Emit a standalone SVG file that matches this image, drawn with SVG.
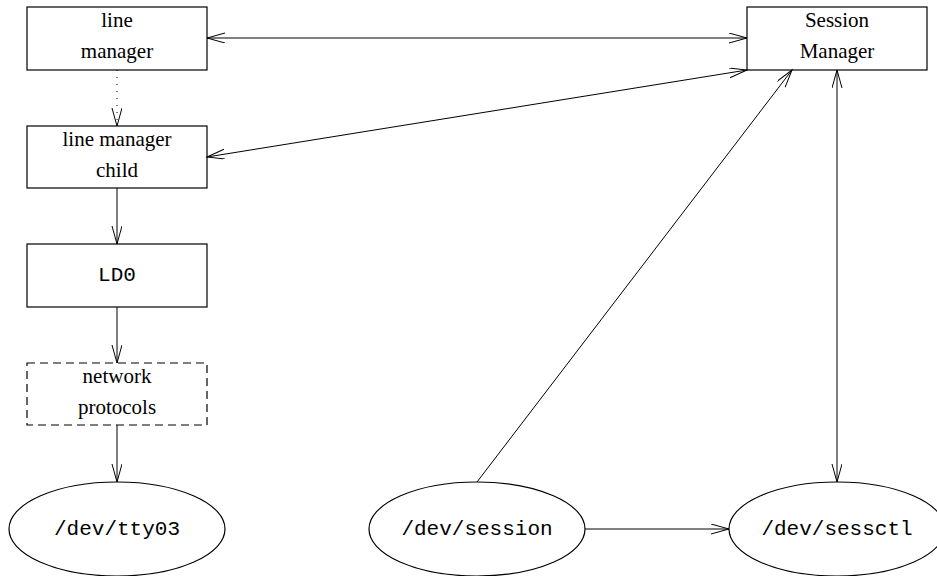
<svg xmlns="http://www.w3.org/2000/svg" width="937" height="576" viewBox="0 0 937 576">
<style>
.box{fill:none;stroke:#000;stroke-width:1.2}
.dash{stroke-dasharray:8,5}
.edge{fill:none;stroke:#000;stroke-width:1}
.dot{stroke-dasharray:1,6}
.t{font-family:"Liberation Serif","Times New Roman",serif;font-size:21px;text-anchor:middle;fill:#000}
.m{font-family:"Liberation Mono","Courier New",monospace;font-size:21px;text-anchor:middle;fill:#000}
</style>
<defs>
<marker id="arr" markerUnits="userSpaceOnUse" markerWidth="20" markerHeight="12" refX="18" refY="5" orient="auto-start-reverse" viewBox="0 0 20 12">
<path d="M0,0 L18,5 L0,10" fill="none" stroke="#000" stroke-width="1"/>
</marker>
</defs>
<rect width="937" height="576" fill="#fff"/>
<g id="line-manager">
<rect class="box" x="27" y="7" width="180" height="63"/>
<text class="t" x="117" y="27">line</text>
<text class="t" x="117" y="58">manager</text>
</g>
<g id="line-manager-child">
<rect class="box" x="27" y="126" width="180" height="62"/>
<text class="t" x="117" y="146">line manager</text>
<text class="t" x="117" y="177">child</text>
</g>
<g id="ld0">
<rect class="box" x="27" y="244" width="180" height="63"/>
<text class="m" x="117" y="281">LD0</text>
</g>
<g id="network-protocols">
<rect class="box dash" x="27" y="363" width="180" height="62"/>
<text class="t" x="117" y="383">network</text>
<text class="t" x="117" y="414">protocols</text>
</g>
<g id="session-manager">
<rect class="box" x="747" y="7" width="180" height="63"/>
<text class="t" x="837" y="27">Session</text>
<text class="t" x="837" y="58">Manager</text>
</g>
<g id="dev-tty03">
<ellipse class="box" cx="117" cy="529" rx="108" ry="47"/>
<text class="m" x="117" y="535">/dev/tty03</text>
</g>
<g id="dev-session">
<ellipse class="box" cx="477" cy="529" rx="108" ry="47"/>
<text class="m" x="477" y="535">/dev/session</text>
</g>
<g id="dev-sessctl">
<ellipse class="box" cx="837" cy="529" rx="108" ry="47"/>
<text class="m" x="837" y="535">/dev/sessctl</text>
</g>
<g id="connectors">
<line class="edge" x1="207" y1="38" x2="747" y2="38" marker-start="url(#arr)" marker-end="url(#arr)"/>
<line class="edge" x1="207" y1="157" x2="747" y2="70" marker-start="url(#arr)" marker-end="url(#arr)"/>
<line class="edge dot" x1="117" y1="70" x2="117" y2="126" marker-end="url(#arr)"/>
<line class="edge" x1="117" y1="188" x2="117" y2="244" marker-end="url(#arr)"/>
<line class="edge" x1="117" y1="307" x2="117" y2="363" marker-end="url(#arr)"/>
<line class="edge" x1="117" y1="425" x2="117" y2="482" marker-end="url(#arr)"/>
<line class="edge" x1="477" y1="482" x2="792" y2="70" marker-end="url(#arr)"/>
<line class="edge" x1="837" y1="70" x2="837" y2="482" marker-start="url(#arr)" marker-end="url(#arr)"/>
<line class="edge" x1="585" y1="529" x2="729" y2="529" marker-end="url(#arr)"/>
</g>
</svg>
